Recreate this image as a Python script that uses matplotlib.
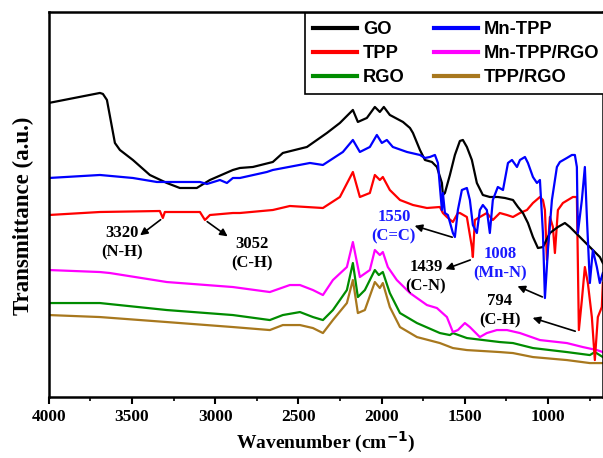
import matplotlib
matplotlib.use('Agg')
import matplotlib.pyplot as plt
from matplotlib.ticker import MultipleLocator

# --- Espectros FTIR (numero de onda em cm-1, transmitancia em u.a.) ---
go_w = [4000, 3693, 3675, 3651, 3603, 3573, 3495, 3393, 3291, 3213, 3111, 3032, 2894, 2852,
        2774, 2654, 2594, 2449, 2329, 2251, 2173, 2143, 2089, 2041, 2011, 1987, 1951, 1872,
        1830, 1812, 1770, 1740, 1698, 1668, 1638, 1632, 1620, 1590, 1560, 1530, 1512, 1488,
        1458, 1428, 1392, 1350, 1302, 1259, 1211, 1181, 1151, 1121, 1091, 1061, 1031, 989,
        941, 899, 869, 839, 809, 749, 689, 671]
go_t = [294, 304, 303, 297, 254, 247, 237, 222, 214, 209, 209, 217, 227, 229,
        230, 235, 244, 250, 264, 274, 287, 275, 279, 290, 285, 290, 282, 275,
        269, 264, 247, 237, 235, 230, 214, 202, 204, 222, 242, 256, 257, 250,
        237, 214, 202, 200, 200, 199, 197, 190, 184, 174, 160, 149, 150, 164,
        170, 174, 170, 165, 160, 150, 140, 134]

tpp_w = [4000, 3693, 3333, 3315, 3303, 3092, 3062, 3032, 2894, 2852, 2654, 2552, 2353, 2251,
         2173, 2131, 2071, 2041, 2011, 1993, 1951, 1890, 1812, 1728, 1650, 1632, 1608, 1572,
         1542, 1530, 1488, 1458, 1452, 1440, 1410, 1368, 1332, 1290, 1247, 1211, 1169, 1127,
         1091, 1049, 1031, 1019, 1007, 989, 971, 959, 941, 911, 881, 851, 827, 815, 797,
         779, 761, 737, 719, 701, 677, 671]
tpp_t = [182, 185, 186, 179, 185, 185, 177, 182, 184, 184, 187, 191, 189, 200,
         225, 200, 204, 222, 217, 220, 207, 197, 192, 189, 190, 184, 180, 175,
         184, 184, 180, 150, 140, 177, 180, 184, 177, 184, 182, 180, 184, 187,
         194, 200, 197, 187, 137, 180, 170, 144, 187, 194, 197, 200, 200, 67, 97,
         130, 114, 80, 37, 80, 90, 114]

rgo_w = [4000, 3693, 3291, 2894, 2672, 2594, 2491, 2413, 2353, 2293, 2209, 2173, 2143, 2101,
         2041, 2017, 1993, 1951, 1890, 1788, 1650, 1590, 1572, 1488, 1290, 1211, 1091, 887,
         749, 719, 671]
rgo_t = [94, 94, 87, 82, 77, 82, 85, 80, 77, 87, 107, 134, 100, 107,
         127, 122, 125, 104, 84, 74, 64, 62, 64, 59, 55, 54, 49, 45,
         42, 45, 40]

mntpp_w = [4000, 3693, 3495, 3351, 3092, 3050, 2972, 2930, 2894, 2852, 2690, 2654, 2431, 2353,
           2233, 2173, 2131, 2071, 2029, 1999, 1969, 1933, 1848, 1770, 1740, 1710, 1680, 1662,
           1650, 1638, 1632, 1620, 1602, 1572, 1560, 1542, 1518, 1488, 1470, 1452, 1428, 1410,
           1392, 1368, 1350, 1332, 1302, 1271, 1241, 1217, 1187, 1169, 1139, 1121, 1091, 1067,
           1049, 1031, 1019, 1001, 977, 947, 929, 887, 857, 839, 827, 821, 797, 779, 767,
           749, 731, 707, 689, 671]
mntpp_t = [219, 222, 219, 215, 215, 213, 217, 214, 219, 219, 225, 227, 234, 232,
           245, 257, 245, 250, 262, 254, 257, 250, 245, 242, 239, 240, 242, 234,
           210, 187, 204, 184, 182, 164, 160, 187, 207, 209, 197, 172, 164, 187,
           192, 187, 164, 197, 210, 207, 234, 237, 230, 237, 240, 234, 220, 214,
           217, 164, 99, 147, 197, 230, 235, 239, 242, 242, 230, 164, 197, 230, 180,
           114, 147, 130, 114, 124]

mntpp_rgo_w = [4000, 3693, 3633, 3291, 2894, 2672, 2552, 2491, 2413, 2353, 2293, 2209, 2173,
               2131, 2071, 2041, 2011, 1993, 1963, 1909, 1830, 1728, 1668, 1608, 1572, 1542,
               1500, 1470, 1410, 1368, 1308, 1247, 1169, 1049, 887, 791, 707, 671]
mntpp_rgo_t = [127, 125, 124, 115, 110, 105, 112, 112, 107, 102, 117, 130, 155,
               120, 127, 147, 142, 145, 130, 117, 104, 92, 89, 80, 65, 67,
               74, 70, 60, 64, 67, 67, 64, 57, 54, 50, 47, 45]

tpp_rgo_w = [4000, 3693, 3291, 2894, 2672, 2594, 2491, 2413, 2353, 2293, 2209, 2173, 2143,
             2101, 2041, 2011, 1993, 1951, 1890, 1788, 1650, 1572, 1488, 1290, 1211, 1091,
             887, 749, 671]
tpp_rgo_t = [82, 80, 75, 70, 67, 72, 72, 69, 64, 77, 94, 117, 84,
             87, 115, 109, 114, 90, 70, 60, 54, 49, 47, 45, 44, 40,
             37, 34, 34]

series = [
    ('GO', go_w, go_t, 'black'),
    ('TPP', tpp_w, tpp_t, '#ff0000'),
    ('RGO', rgo_w, rgo_t, '#008c00'),
    ('Mn-TPP', mntpp_w, mntpp_t, '#0000ff'),
    ('Mn-TPP/RGO', mntpp_rgo_w, mntpp_rgo_t, '#ff00ff'),
    ('TPP/RGO', tpp_rgo_w, tpp_rgo_t, '#a8781e'),
]

fig = plt.figure(figsize=(6.03, 4.58), dpi=100)
ax = fig.add_axes([0.081, 0.133, 0.919, 0.841])

# ordem de desenho: linhas de baixo primeiro
ordem = ['TPP/RGO', 'RGO', 'Mn-TPP/RGO', 'TPP', 'GO', 'Mn-TPP']
linhas = {}
for nome in ordem:
    for lbl, w, t, cor in series:
        if lbl == nome:
            linhas[lbl], = ax.plot(w, t, color=cor, lw=1.6, label=lbl)

ax.set_xlim(4000, 670)
ax.set_ylim(0, 385)
ax.xaxis.set_major_locator(MultipleLocator(500))
ax.xaxis.set_minor_locator(MultipleLocator(250))
ax.set_yticks([])
ax.tick_params(axis='x', which='major', length=5, width=1.5, direction='out')
ax.tick_params(axis='x', which='minor', length=3, width=1.2, direction='out')
for lab in ax.get_xticklabels():
    lab.set_fontfamily('Liberation Serif')
    lab.set_fontweight('bold')
    lab.set_fontsize(12.5)
for sp in ax.spines.values():
    sp.set_linewidth(1.8)

ax.set_xlabel('Wavenumber (cm$^{\\mathbf{-1}}$)', fontfamily='Liberation Serif',
              fontweight='bold', fontsize=14)
ax.set_ylabel('Transmittance (a.u.)', fontfamily='Liberation Serif',
              fontweight='bold', fontsize=16.5)
ax.yaxis.set_label_coords(-0.027, 0.47)

# --- legenda ---
handles = [linhas[n] for n in ['GO', 'TPP', 'RGO', 'Mn-TPP', 'Mn-TPP/RGO', 'TPP/RGO']]
leg = ax.legend(handles=handles, ncol=2, loc='upper left',
                bbox_to_anchor=(0.506, 0.972), bbox_transform=fig.transFigure,
                prop={'family': 'Liberation Sans', 'weight': 'bold', 'size': 13.2},
                frameon=True, fancybox=False, edgecolor='black', framealpha=1,
                handlelength=2.4, handletextpad=0.3, columnspacing=1.6,
                labelspacing=0.38, borderpad=0.45, borderaxespad=0)
leg.get_frame().set_linewidth(1.2)
for h in leg.legend_handles:
    h.set_linewidth(3)

# --- anotacoes das bandas ---
fonte = dict(fontfamily='Liberation Serif', fontweight='bold', fontsize=12,
             ha='center', va='center', linespacing=1.3)
setas = dict(arrowstyle='-|>', color='black', lw=1.2, mutation_scale=11)

anotacoes = [
    ('3320\n(N-H)', (3561, 154), 'black', (3315, 179), (3465, 160)),
    ('3052\n(C-H)', (2780, 143), 'black', (3062, 177), (2912, 159)),
    ('1550\n(C=C)', (1927, 170), '#1a1aff', (1560, 159), (1818, 172)),
    ('1439\n(C-N)', (1734, 120), 'black', (1452, 138), (1632, 127)),
    ('1008\n(Mn-N)', (1290, 133), '#1a1aff', (1019, 99), (1199, 112)),
    ('794\n(C-H)', (1290, 86), 'black', (821, 65), (1109, 80)),
]
for texto, pos, cor, cauda, ponta in anotacoes:
    ax.text(pos[0], pos[1], texto, color=cor, **fonte)
    ax.annotate('', xy=ponta, xytext=cauda, arrowprops=setas)

fig.savefig('out.png', dpi=100)
